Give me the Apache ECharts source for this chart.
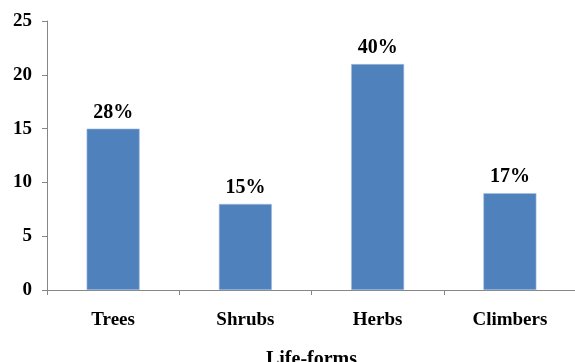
<!DOCTYPE html>
<html>
<head>
<meta charset="utf-8">
<title>Life-forms</title>
<script src="https://cdn.jsdelivr.net/npm/echarts@6/dist/echarts.min.js"></script>
<style>
	html, body { margin: 0; padding: 0; background: #ffffff; overflow: hidden; }
	#chart { width: 575px; height: 362px; }
</style>
</head>
<body>
<div id="chart"></div>
<script>
var categories = ['Trees', 'Shrubs', 'Herbs', 'Climbers'];
var counts = [15, 8, 21, 9];
var percents = ['28%', '15%', '40%', '17%'];
var yTicks = [0, 5, 10, 15, 20, 25];

var serif = '"Liberation Serif", "Times New Roman", serif';
var chart = echarts.init(document.getElementById('chart'));

var option = {
	animation: false,
	grid: {
		left: 47,
		right: -1,
		top: 21,
		bottom: 72,
		containLabel: false,
		outerBoundsMode: 'none'
	},
	xAxis: {
		type: 'category',
		data: categories,
		name: 'Life-forms',
		nameLocation: 'middle',
		nameGap: 60,
		nameTextStyle: { fontFamily: serif, fontWeight: 'bold', fontSize: 20, color: '#000' },
		axisLine: { lineStyle: { color: '#868686', width: 1 } },
		axisTick: { show: true, length: 5, lineStyle: { color: '#868686' } },
		axisLabel: { margin: 21, fontFamily: serif, fontWeight: 'bold', fontSize: 19, color: '#000' }
	},
	yAxis: {
		type: 'value',
		min: yTicks[0],
		max: yTicks[yTicks.length - 1],
		interval: 5,
		splitLine: { show: false },
		axisLine: { show: true, lineStyle: { color: '#868686', width: 1 } },
		axisTick: { show: true, length: 5, lineStyle: { color: '#868686' } },
		axisLabel: { margin: 15, fontFamily: serif, fontWeight: 'bold', fontSize: 19, color: '#000' }
	},
	series: [{
		type: 'bar',
		data: counts,
		barWidth: 53,
		itemStyle: { color: '#4f81bd', borderColor: '#a7c0de', borderWidth: 0.6 },
		label: {
			show: true,
			position: 'top',
			distance: 6,
			formatter: function (p) { return percents[p.dataIndex]; },
			fontFamily: serif,
			fontWeight: 'bold',
			fontSize: 20,
			color: '#000'
		}
	}]
};
chart.setOption(option);
</script>
</body>
</html>
